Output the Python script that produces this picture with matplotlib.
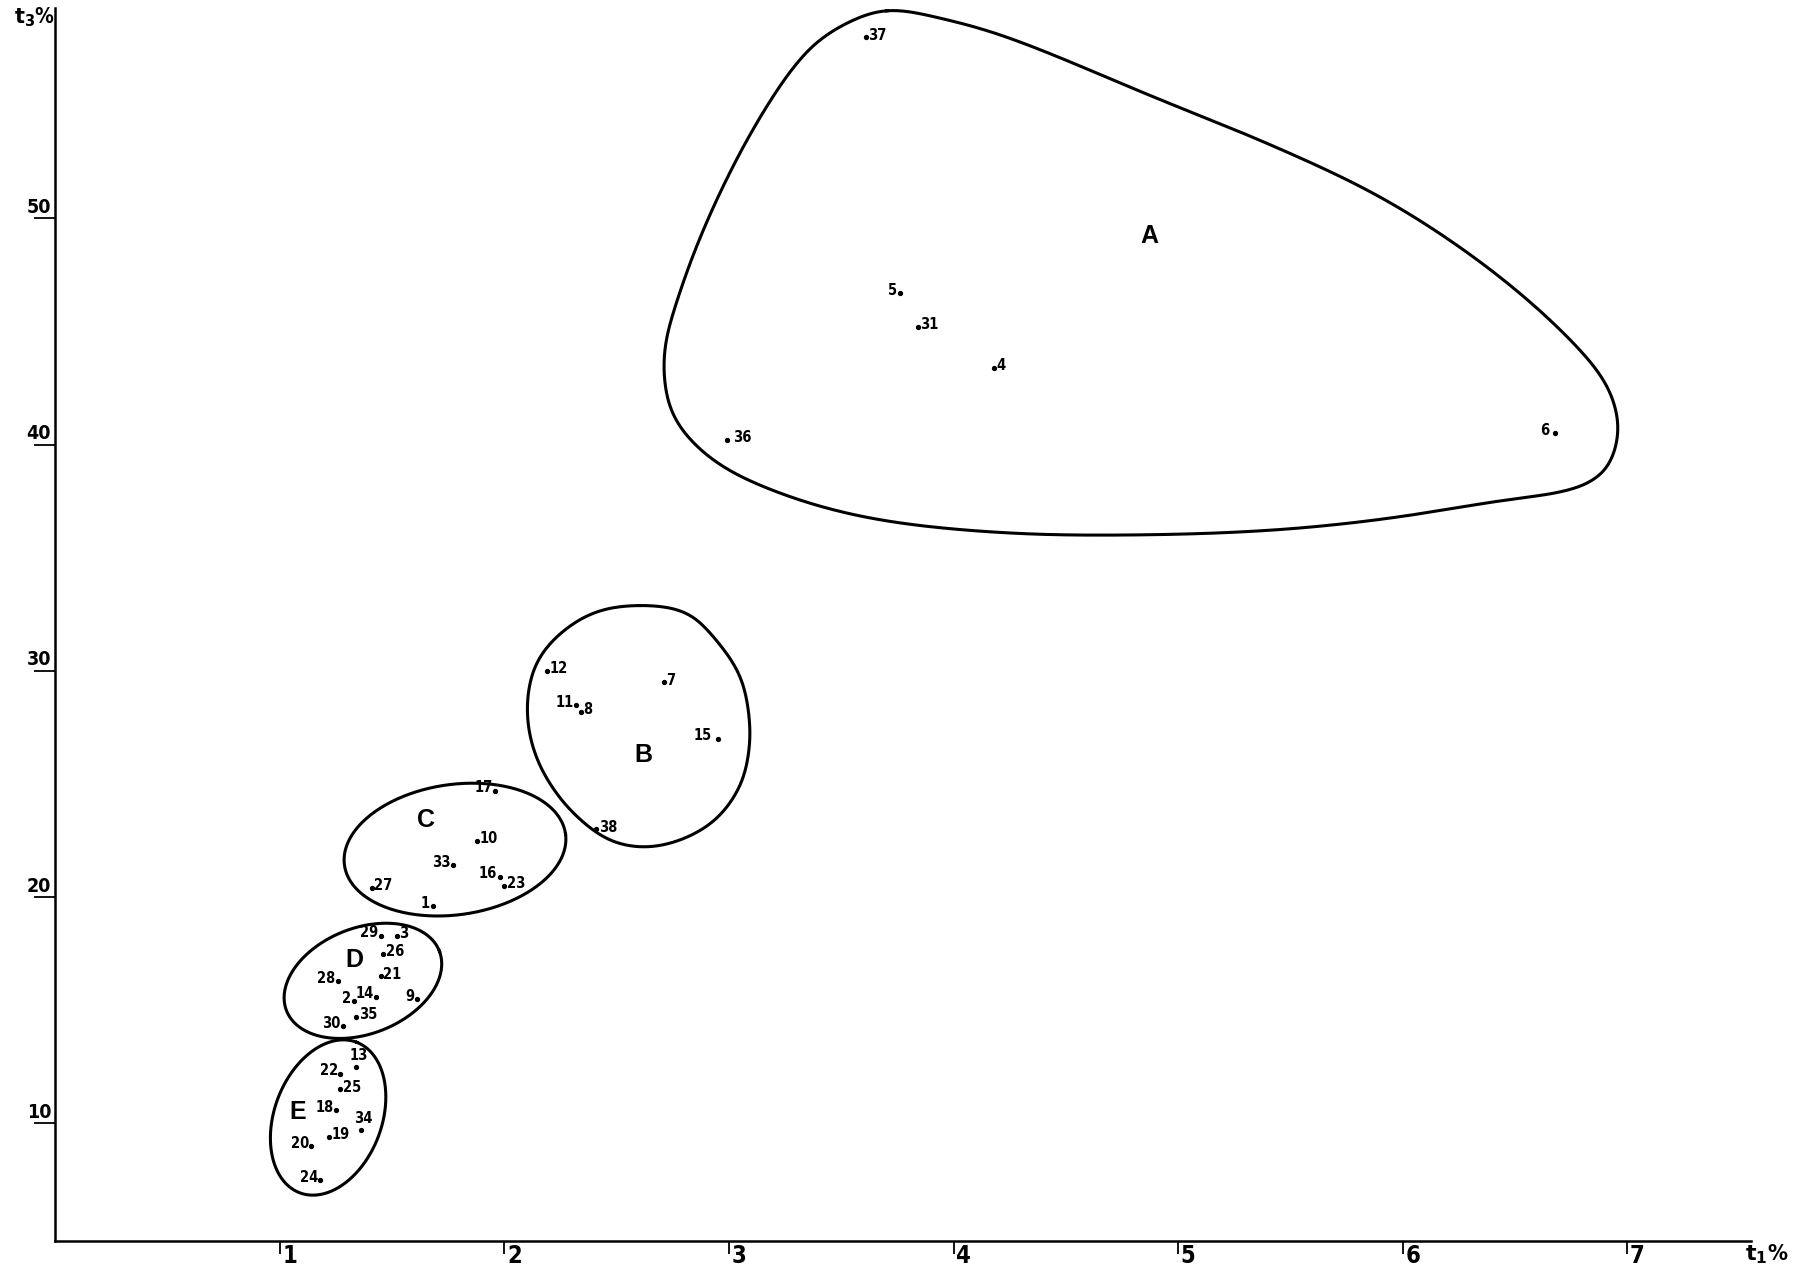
import numpy as np
import matplotlib
matplotlib.use('Agg')
import matplotlib.pyplot as plt
from matplotlib.transforms import offset_copy

# sample numbers, t1 %, t3 % and which side the number is written on
point_ids = [37, 5, 31, 4, 36, 6,
             12, 7, 11, 8, 15, 38,
             17, 10, 33, 16, 23, 27, 1,
             29, 3, 26, 21, 28, 14, 2, 9, 35, 30,
             13, 22, 25, 18, 34, 19, 20, 24]
t1 = [3.61, 3.76, 3.84, 4.18, 2.99, 6.68,
      2.19, 2.71, 2.32, 2.34, 2.95, 2.41,
      1.96, 1.88, 1.77, 1.98, 2.00, 1.41, 1.68,
      1.45, 1.52, 1.46, 1.45, 1.26, 1.43, 1.33, 1.61, 1.34, 1.28,
      1.34, 1.27, 1.27, 1.25, 1.36, 1.22, 1.14, 1.18]
t3 = [58.0, 46.7, 45.2, 43.4, 40.2, 40.5,
      30.0, 29.5, 28.5, 28.2, 27.0, 23.0,
      24.7, 22.5, 21.4, 20.9, 20.5, 20.4, 19.6,
      18.3, 18.3, 17.5, 16.5, 16.3, 15.6, 15.4, 15.5, 14.7, 14.3,
      12.5, 12.2, 11.5, 10.6, 9.7, 9.4, 9.0, 7.5]
label_side = ['r', 'l', 'r', 'r', 'r', 'l',
              'r', 'r', 'l', 'r', 'l', 'r',
              'l', 'r', 'l', 'l', 'r', 'r', 'l',
              'l', 'r', 'r', 'r', 'l', 'l', 'l', 'l', 'r', 'l',
              'u', 'l', 'r', 'l', 'u', 'r', 'l', 'l']

group_names = ['A', 'B', 'C', 'D', 'E']
group_x = [4.87, 2.62, 1.65, 1.33, 1.08]
group_y = [49.2, 26.3, 23.4, 17.2, 10.5]

# hand drawn outline of group A and B (t1, t3)
outline_a_x = [3.70, 3.96, 4.27, 4.88, 5.40, 5.91, 6.37, 6.73, 6.91, 6.96, 6.91, 6.78, 6.42, 5.91,
               5.40, 4.78, 4.22, 3.65, 3.24, 2.93, 2.75, 2.71, 2.78, 2.93, 3.14, 3.34, 3.50]
outline_a_y = [59.2, 58.8, 57.9, 55.4, 53.3, 50.9, 47.9, 44.8, 42.6, 40.7, 39.0, 38.1, 37.5, 36.7,
               36.2, 36.0, 36.1, 36.7, 37.8, 39.3, 41.3, 43.9, 46.7, 50.5, 54.5, 57.3, 58.5]
outline_b_x = [2.60, 2.81, 2.94, 3.05, 3.09, 3.09, 3.05, 2.94, 2.78,
               2.62, 2.47, 2.34, 2.23, 2.14, 2.10, 2.13, 2.23, 2.40]
outline_b_y = [32.9, 32.6, 31.4, 29.8, 28.0, 26.5, 24.9, 23.4, 22.5,
               22.2, 22.5, 23.4, 24.6, 26.2, 28.1, 30.1, 31.5, 32.6]
# ellipses for C, D, E: centre, half axes (t1 units), tilt
ell_c = (1.78, 22.1, 0.497, 0.288, 8)
ell_d = (1.37, 16.3, 0.365, 0.234, 21)
ell_e = (1.215, 10.26, 0.356, 0.239, 69)

xticks = [1, 2, 3, 4, 5, 6, 7]
yticks = [10, 20, 30, 40, 50]

narrow = dict(family='DejaVu Sans', fontstretch='condensed', fontweight='bold')


def smooth_closed(xs, ys, n=30, alpha=0.5, win=10):
    # centripetal Catmull-Rom in (t1, t3/10), then a light circular moving average
    p = np.column_stack([xs, np.asarray(ys) / 10.0])
    m = len(p)
    segs = []
    for i in range(m):
        p0, p1, p2, p3 = p[i - 1], p[i], p[(i + 1) % m], p[(i + 2) % m]
        t0 = 0.0
        t1_ = t0 + np.linalg.norm(p1 - p0) ** alpha
        t2_ = t1_ + np.linalg.norm(p2 - p1) ** alpha
        t3_ = t2_ + np.linalg.norm(p3 - p2) ** alpha
        t = np.linspace(t1_, t2_, n, endpoint=False)[:, None]
        a1 = (t1_ - t) / (t1_ - t0) * p0 + (t - t0) / (t1_ - t0) * p1
        a2 = (t2_ - t) / (t2_ - t1_) * p1 + (t - t1_) / (t2_ - t1_) * p2
        a3 = (t3_ - t) / (t3_ - t2_) * p2 + (t - t2_) / (t3_ - t2_) * p3
        b1 = (t2_ - t) / (t2_ - t0) * a1 + (t - t0) / (t2_ - t0) * a2
        b2 = (t3_ - t) / (t3_ - t1_) * a2 + (t - t1_) / (t3_ - t1_) * a3
        segs.append((t2_ - t) / (t2_ - t1_) * b1 + (t - t1_) / (t2_ - t1_) * b2)
    d = np.vstack(segs)
    k = np.ones(2 * win + 1) / (2 * win + 1)
    pad = np.vstack([d[-win:], d, d[:win]])
    sx = np.convolve(pad[:, 0], k, mode='valid')
    sy = np.convolve(pad[:, 1], k, mode='valid')
    sx = np.append(sx, sx[0])
    sy = np.append(sy, sy[0])
    return sx, sy * 10


def ellipse(cx, cy, a, b, ang):
    t = np.linspace(0, 2 * np.pi, 300)
    th = np.radians(ang)
    u = a * np.cos(t) * np.cos(th) - b * np.sin(t) * np.sin(th)
    v = a * np.cos(t) * np.sin(th) + b * np.sin(t) * np.cos(th)
    return cx + u, cy + 10 * v


fig = plt.figure(figsize=(18.06, 12.68), dpi=100)
ax = fig.add_axes([0.0306, 0.0209, 0.9388, 0.9729])
ax.set_xlim(0, 7.55)
ax.set_ylim(4.78, 59.3)

for s in ['top', 'right']:
    ax.spines[s].set_visible(False)
for s in ['left', 'bottom']:
    ax.spines[s].set_linewidth(1.8)

ax.set_xticks(xticks)
ax.set_yticks(yticks)
ax.tick_params(axis='x', length=9, width=1.3, labelbottom=False)
ax.tick_params(axis='y', length=15, width=1.3, labelleft=False)

for v in yticks:
    tr = offset_copy(ax.transData, fig=fig, x=-3, y=1, units='points')
    ax.text(0, v, str(v), transform=tr, ha='right', va='bottom', fontsize=14, **narrow)
for v in xticks:
    tr = offset_copy(ax.transData, fig=fig, x=2, y=-2, units='points')
    ax.text(v, 4.78, str(v), transform=tr, ha='left', va='top', fontsize=17, **narrow)

ax.text(7.62, 4.78, r'$\mathbf{t_1}$%', transform=offset_copy(ax.transData, fig=fig, y=-1, units='points'),
        ha='center', va='top', fontsize=16, **narrow)
ax.text(0, 59.3, r'$\mathbf{t_3}$%', transform=offset_copy(ax.transData, fig=fig, x=0, y=2, units='points'),
        ha='right', va='top', fontsize=15, **narrow)

# group outlines
xa, ya = smooth_closed(outline_a_x, outline_a_y)
ax.plot(xa, ya, color='black', lw=2.2, clip_on=False)
xb, yb = smooth_closed(outline_b_x, outline_b_y, win=14)
ax.plot(xb, yb, color='black', lw=2.2)
for e in [ell_c, ell_d, ell_e]:
    ex, ey = ellipse(*e)
    ax.plot(ex, ey, color='black', lw=2.2)

for name, gx, gy in zip(group_names, group_x, group_y):
    ax.text(gx, gy, name, ha='center', va='center', fontsize=18, fontweight='bold',
            family=['Liberation Sans', 'DejaVu Sans'])

# samples
ax.plot(t1, t3, 'o', color='black', ms=2.8, ls='none')
wide = {36: 4.5, 6: 4.5, 15: 4.5}
for pid, x, y, side in zip(point_ids, t1, t3, label_side):
    gap = wide.get(pid, 1.8)
    if side == 'r':
        tr = offset_copy(ax.transData, fig=fig, x=gap, y=1.5, units='points')
        ax.text(x, y, str(pid), transform=tr, ha='left', va='center', fontsize=10.5, **narrow)
    elif side == 'l':
        tr = offset_copy(ax.transData, fig=fig, x=-gap, y=2, units='points')
        ax.text(x, y, str(pid), transform=tr, ha='right', va='center', fontsize=10.5, **narrow)
    else:
        tr = offset_copy(ax.transData, fig=fig, x=2, y=3, units='points')
        ax.text(x, y, str(pid), transform=tr, ha='center', va='bottom', fontsize=10.5, **narrow)

fig.savefig('out.png', dpi=100, facecolor='white')
